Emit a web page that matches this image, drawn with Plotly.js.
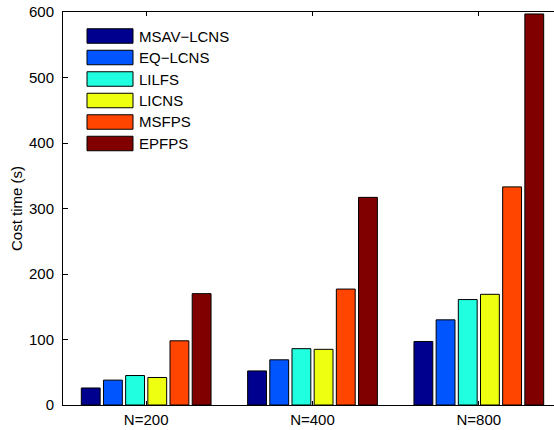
<!DOCTYPE html>
<html>
<head>
<meta charset="utf-8">
<script src="https://cdn.plot.ly/plotly-3.0.1.min.js"></script>
<style>html,body{margin:0;padding:0;background:#fff;overflow:hidden;width:554px;height:430px;}#chart{width:562px;height:430px;}</style>
</head>
<body>
<div id="chart"></div>
<script>
const categories = ['N=200', 'N=400', 'N=800'];
const seriesNames = ['MSAV\u2212LCNS', 'EQ\u2212LCNS', 'LILFS', 'LICNS', 'MSFPS', 'EPFPS'];
const msavLcns = [26, 52, 97];
const eqLcns = [38, 69, 130];
const lilfs = [45, 86, 161];
const licns = [42, 85, 169];
const msfps = [98, 177, 333];
const epfps = [170, 317, 597];
const yTicks = [0, 100, 200, 300, 400, 500, 600];
const colors = ['#00008F', '#0055FF', '#20FFDF', '#EFFF10', '#FF4500', '#800000'];

const seriesValues = [msavLcns, eqLcns, lilfs, licns, msfps, epfps];
const FONT = 'Liberation Sans, Arial, Helvetica, sans-serif';

// The reference axes box extends slightly past the right edge of the 554px window,
// so the figure is drawn a little wider and clipped by the page.
const W = 562, H = 430;
const M = {l: 63, r: 0, t: 12, b: 25};
const plotW = W - M.l - M.r, plotH = H - M.t - M.b;
const px2x = px => (px - M.l) / plotW;
const px2y = py => (H - M.b - py) / plotH;

const traces = seriesNames.map((name, i) => ({
  type: 'bar',
  name: name,
  x: categories,
  y: seriesValues[i],
  marker: {color: colors[i], line: {color: '#000', width: 1}},
  showlegend: false,
  hoverinfo: 'x+y+name'
}));

const shapes = [];
const annotations = [];
const rowTop = 36, rowPitch = 21.5, swH = 14.5;
seriesNames.forEach((name, i) => {
  const cy = rowTop + i * rowPitch;
  shapes.push({
    type: 'rect', xref: 'paper', yref: 'paper',
    x0: px2x(87), x1: px2x(133),
    y0: px2y(cy + swH / 2), y1: px2y(cy - swH / 2),
    fillcolor: colors[i], line: {color: '#000', width: 1}
  });
  annotations.push({
    xref: 'paper', yref: 'paper', x: px2x(137), y: px2y(cy),
    xanchor: 'left', yanchor: 'middle', showarrow: false,
    text: name, font: {family: FONT, size: 15, color: '#000'}
  });
});

const layout = {
  width: W, height: H,
  margin: M,
  paper_bgcolor: '#fff', plot_bgcolor: '#fff',
  barmode: 'group', bargap: 0.2, bargroupgap: 0.15,
  font: {family: FONT, size: 15, color: '#000'},
  xaxis: {
    type: 'category',
    range: [-0.5, 2.5],
    showline: true, linecolor: '#000', linewidth: 1,
    mirror: 'ticks', ticks: 'inside', ticklen: 4, tickcolor: '#000',
    showgrid: false, zeroline: false,
    ticklabelstandoff: 1,
    tickfont: {family: FONT, size: 15, color: '#000'}
  },
  yaxis: {
    range: [0, 600],
    tickvals: yTicks, ticktext: yTicks.map(String),
    showline: true, linecolor: '#000', linewidth: 1,
    mirror: false, ticks: 'inside', ticklen: 5, tickcolor: '#000',
    showgrid: false, zeroline: false,
    ticklabelstandoff: 5,
    tickfont: {family: FONT, size: 15, color: '#000'},
    title: {text: 'Cost time (s)', font: {family: FONT, size: 15, color: '#000'}, standoff: 2}
  },
  shapes: shapes,
  annotations: annotations,
  showlegend: false
};

Plotly.newPlot('chart', traces, layout, {displayModeBar: false, staticPlot: true});
</script>
</body>
</html>
